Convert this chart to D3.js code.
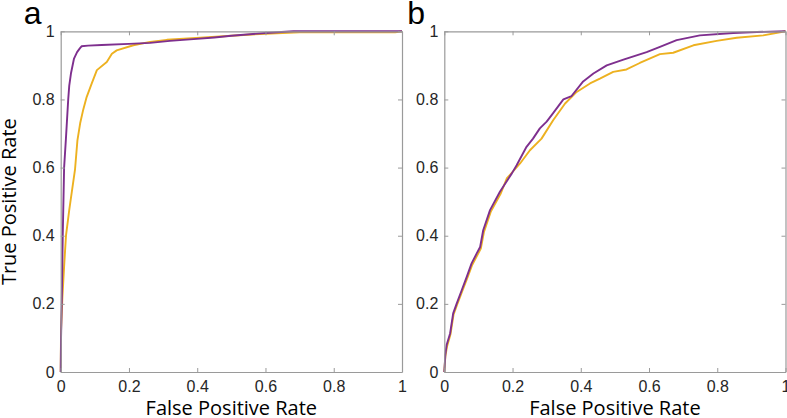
<!DOCTYPE html>
<html>
<head>
<meta charset="utf-8">
<script src="https://cdn.jsdelivr.net/npm/d3@7"></script>
<style>
  html, body { margin: 0; padding: 0; background: #fff; }
  svg { display: block; }
</style>
</head>
<body>
<svg id="chart" width="787" height="418"></svg>
<script>
// ---- Data ----
const tickValues = [0, 0.2, 0.4, 0.6, 0.8, 1];
const tickLabels = ["0", "0.2", "0.4", "0.6", "0.8", "1"];
const panelLabels = ["a", "b"];
const xAxisTitle = "False Positive Rate";
const yAxisTitle = "True Positive Rate";
const seriesNames = ["orange", "purple"];

// Panel a: [FPR, TPR]
const aOrange = [[0,0],[0.001,0.123],[0.005,0.22],[0.01,0.31],[0.0155,0.4],[0.025,0.475],[0.029,0.504],[0.042,0.595],[0.049,0.68],[0.057,0.73],[0.066,0.77],[0.076,0.807],[0.091,0.847],[0.106,0.886],[0.135,0.91],[0.15,0.934],[0.164,0.944],[0.213,0.959],[0.262,0.969],[0.311,0.975],[0.409,0.981],[0.5,0.987],[0.6,0.993],[0.7,0.997],[0.98,0.997],[1,1]];
const aPurple = [[0,0],[0.001,0.1],[0.003,0.2],[0.006,0.4],[0.01,0.6],[0.015,0.68],[0.022,0.8],[0.025,0.84],[0.03,0.876],[0.039,0.92],[0.048,0.939],[0.056,0.95],[0.061,0.956],[0.08,0.958],[0.12,0.96],[0.2,0.963],[0.262,0.966],[0.32,0.972],[0.389,0.977],[0.45,0.982],[0.5,0.987],[0.6,0.995],[0.682,1],[1,1]];

// Panel b: [FPR, TPR]
const bOrange = [[0,0],[0.003,0.045],[0.008,0.075],[0.018,0.11],[0.027,0.168],[0.037,0.196],[0.052,0.236],[0.067,0.275],[0.082,0.315],[0.097,0.343],[0.107,0.362],[0.116,0.41],[0.136,0.47],[0.165,0.523],[0.183,0.568],[0.222,0.612],[0.251,0.651],[0.285,0.685],[0.319,0.739],[0.354,0.788],[0.388,0.822],[0.427,0.847],[0.456,0.861],[0.495,0.881],[0.534,0.888],[0.573,0.907],[0.632,0.933],[0.671,0.937],[0.73,0.959],[0.798,0.972],[0.857,0.981],[0.935,0.988],[1,1]];
const bPurple = [[0,0],[0.003,0.05],[0.007,0.08],[0.017,0.113],[0.026,0.172],[0.036,0.2],[0.051,0.24],[0.066,0.28],[0.08,0.319],[0.095,0.348],[0.105,0.367],[0.114,0.416],[0.134,0.475],[0.163,0.529],[0.198,0.583],[0.212,0.607],[0.241,0.661],[0.26,0.685],[0.28,0.715],[0.3,0.735],[0.319,0.76],[0.349,0.8],[0.373,0.81],[0.407,0.853],[0.437,0.876],[0.476,0.9],[0.525,0.917],[0.593,0.939],[0.632,0.954],[0.681,0.974],[0.749,0.988],[0.847,0.995],[0.916,0.998],[1,1]];

// ---- Layout / style ----
const colors = { orange: "#EDB120", purple: "#7E2F8E" };
const axisColor = "#9a9a9a";
const textColor = "#262626";
const yTop = 31.3, yBottom = 372;
const panels = [
  { x0: 60.7, x1: 402, label: panelLabels[0], series: { orange: aOrange, purple: aPurple }, showYTitle: true },
  { x0: 444.3, x1: 785.5, label: panelLabels[1], series: { orange: bOrange, purple: bPurple }, showYTitle: false }
];

const svg = d3.select("#chart");
const y = d3.scaleLinear().domain([0, 1]).range([yBottom, yTop]);
const tickLen = 4;

panels.forEach(p => {
  const x = d3.scaleLinear().domain([0, 1]).range([p.x0, p.x1]);
  const g = svg.append("g");

  // curves
  const line = d3.line().x(d => x(d[0])).y(d => y(d[1])).curve(d3.curveLinear);
  seriesNames.forEach(name => {
    g.append("path")
      .datum(p.series[name])
      .attr("fill", "none")
      .attr("stroke", colors[name])
      .attr("stroke-width", 1.9)
      .attr("stroke-linejoin", "round")
      .attr("d", line);
  });

  // axes (MATLAB-like box with inward ticks)
  const fmt = (d) => tickLabels[tickValues.indexOf(d)];
  const bottom = g.append("g").attr("transform", `translate(0,${yBottom})`)
    .call(d3.axisBottom(x).tickValues(tickValues).tickFormat(fmt).tickSizeInner(-tickLen).tickSizeOuter(0).tickPadding(9));
  const top = g.append("g").attr("transform", `translate(0,${yTop})`)
    .call(d3.axisTop(x).tickValues(tickValues).tickFormat("").tickSizeInner(-tickLen).tickSizeOuter(0));
  const left = g.append("g").attr("transform", `translate(${p.x0},0)`)
    .call(d3.axisLeft(y).tickValues(tickValues).tickFormat(fmt).tickSizeInner(-tickLen).tickSizeOuter(0).tickPadding(6));
  const right = g.append("g").attr("transform", `translate(${p.x1},0)`)
    .call(d3.axisRight(y).tickValues(tickValues).tickFormat("").tickSizeInner(-tickLen).tickSizeOuter(0));

  [bottom, top, left, right].forEach(ax => {
    ax.select(".domain").attr("stroke", axisColor).attr("stroke-width", 1.2);
    ax.selectAll(".tick line").attr("stroke", axisColor).attr("stroke-width", 1);
    ax.selectAll("text").attr("fill", textColor)
      .style("font-family", "'Liberation Sans', Arial, sans-serif").style("font-size", "16px");
  });

  // x title
  svg.append("text")
    .attr("x", (p.x0 + p.x1) / 2).attr("y", 415)
    .attr("text-anchor", "middle")
    .style("font-family", "'Open Sans', sans-serif").style("font-size", "20px")
    .attr("fill", "#000")
    .text(xAxisTitle);

  // panel label
  svg.append("text")
    .attr("x", p.x0 - 37).attr("y", 24)
    .style("font-family", "'Liberation Sans', Arial, sans-serif").style("font-size", "32px")
    .attr("fill", "#000")
    .text(p.label);

  if (p.showYTitle) {
    svg.append("text")
      .attr("transform", `translate(16,${(yTop + yBottom) / 2}) rotate(-90)`)
      .attr("text-anchor", "middle")
      .style("font-family", "'Open Sans', sans-serif").style("font-size", "20px")
      .attr("fill", "#000")
      .text(yAxisTitle);
  }
});
</script>
</body>
</html>
